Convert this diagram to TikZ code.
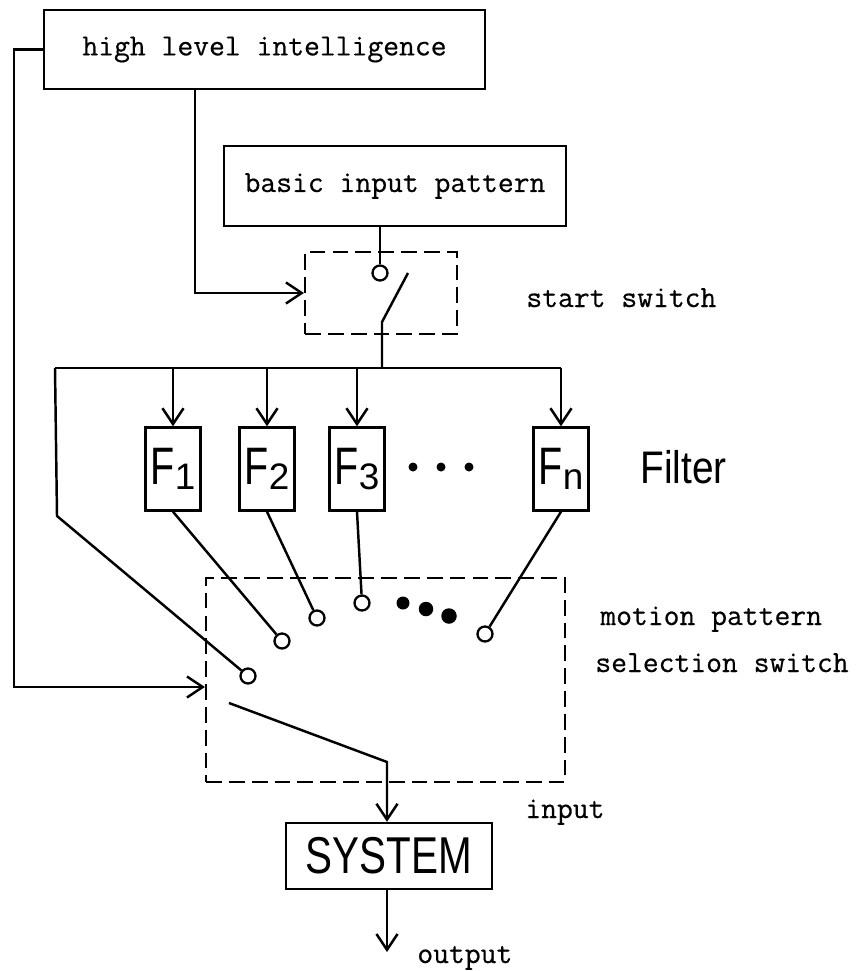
\documentclass[tikz,border=0pt]{standalone}
\usepackage{fontspec}
\setmonofont[FakeBold=0.5]{Latin Modern Mono}
\newfontfamily\letterfont{Liberation Sans}
\usetikzlibrary{arrows.meta}

\tikzset{
  wire/.style={line width=1.4pt},
  arr/.style={wire,-{Straight Barb[length=9pt,width=12pt]}},
  typefont/.style={font=\fontsize{17.5}{20}\selectfont\ttfamily},
  typebox/.style={draw,wire,typefont,inner sep=0pt},
  filt/.style={draw,wire,minimum width=1.1cm,minimum height=1.66cm,inner sep=0pt},
  switchbox/.style={draw,line width=1.2pt,dash pattern=on 9pt off 4pt},
  contact/.style={circle,draw,line width=1.3pt,minimum size=0.3cm,inner sep=0pt},
  blob/.style={circle,fill,inner sep=0pt},
  lbl/.style={anchor=base west,typefont,inner sep=0pt},
}
\newcommand{\filtname}[1]{\scalebox{0.75}[1]{\fontsize{30}{30}\selectfont\letterfont F}\raisebox{-2.8pt}{\fontsize{21}{21}\selectfont\letterfont #1}}

\begin{document}
\begin{tikzpicture}[x=0.02cm,y=-0.02cm]
    \useasboundingbox (0,0) rectangle (859,971);
    % boxes
    \node[typebox,minimum width=8.82cm,minimum height=1.58cm] (hli) at (264.5,49.5) {high level intelligence};
    \node[typebox,minimum width=6.84cm,minimum height=1.6cm] (bip) at (395,186) {basic input pattern};
    \node[switchbox,minimum width=3.04cm,minimum height=1.64cm] (ssw) at (381,293) {};
    \node[lbl] (sslab) at (526,307) {start switch};
    % start switch
    \node[contact] (s0) at (380,273) {};
    \coordinate (s1) at (408,273);
    \coordinate (s2) at (382,322);
    \coordinate (bus) at (382,368);
    \coordinate (busl) at (55,368);
    \coordinate (bend) at (57,516);
    \draw[wire] (bip.south -| s0) -- (s0);
    \draw[wire] (s1) -- (s2) -- (bus);
    \draw[arr] ([xshift=-1.39cm]hli.south) |- (ssw.west);
    % filters
    \foreach \n/\x/\t in {F1/173/1, F2/267/2, F3/357/3, Fn/561/n}
        \node[filt] (\n) at (\x,469) {\filtname{\t}};
    \foreach \n/\x in {d1/413, d2/441, d3/469}
        \node[blob,minimum size=0.18cm] (\n) at (\x,467) {};
    \node[anchor=base west,inner sep=0pt,font=\fontsize{26}{26}\selectfont\letterfont] (flab) at (640,483) {\scalebox{0.85}[1]{Filter}};
    \draw[wire] (busl) -- (busl -| Fn.north);
    \foreach \n in {F1,F2,F3,Fn}
        \draw[arr] (busl -| \n.north) -- (\n.north);
    % selection switch
    \node[switchbox,minimum width=7.18cm,minimum height=4.08cm] (sel) at (385.5,680) {};
    \node[contact] (c0) at (248,676) {};
    \node[contact] (c1) at (282,641) {};
    \node[contact] (c2) at (317,618) {};
    \node[contact] (c3) at (362,603) {};
    \node[contact] (cn) at (485,634) {};
    \node[blob,minimum size=0.26cm] (e1) at (403,603) {};
    \node[blob,minimum size=0.29cm] (e2) at (426,609) {};
    \node[blob,minimum size=0.31cm] (e3) at (449,616) {};
    \draw[wire] (c0) -- (bend) -- (busl);
    \foreach \n/\c in {F1/c1, F2/c2, F3/c3, Fn/cn}
        \draw[wire] (\n.south) -- (\c);
    \node[lbl] (mplab) at (600,625) {motion pattern};
    \node[lbl] (sslab2) at (595,672) {selection switch};
    \draw[arr] (hli.west) -- ++(-29,0) |- ([yshift=-0.14cm]sel.west);
    % system
    \node[draw,wire,minimum width=4.12cm,minimum height=1.32cm,inner sep=0pt,font=\fontsize{29.5}{30}\selectfont\letterfont] (sys) at (389,856) {\scalebox{0.78}[1]{SYSTEM}};
    \coordinate (b0) at (229,703);
    \coordinate (b1) at (387,762);
    \coordinate (out) at (387,952);
    \draw[arr] (b0) -- (b1) -- (b1 |- sys.north);
    \draw[arr] (out |- sys.south) -- (out);
    \node[lbl] (inlab) at (525,818) {input};
    \node[lbl] (outlab) at (417,963) {output};
\end{tikzpicture}
\end{document}
